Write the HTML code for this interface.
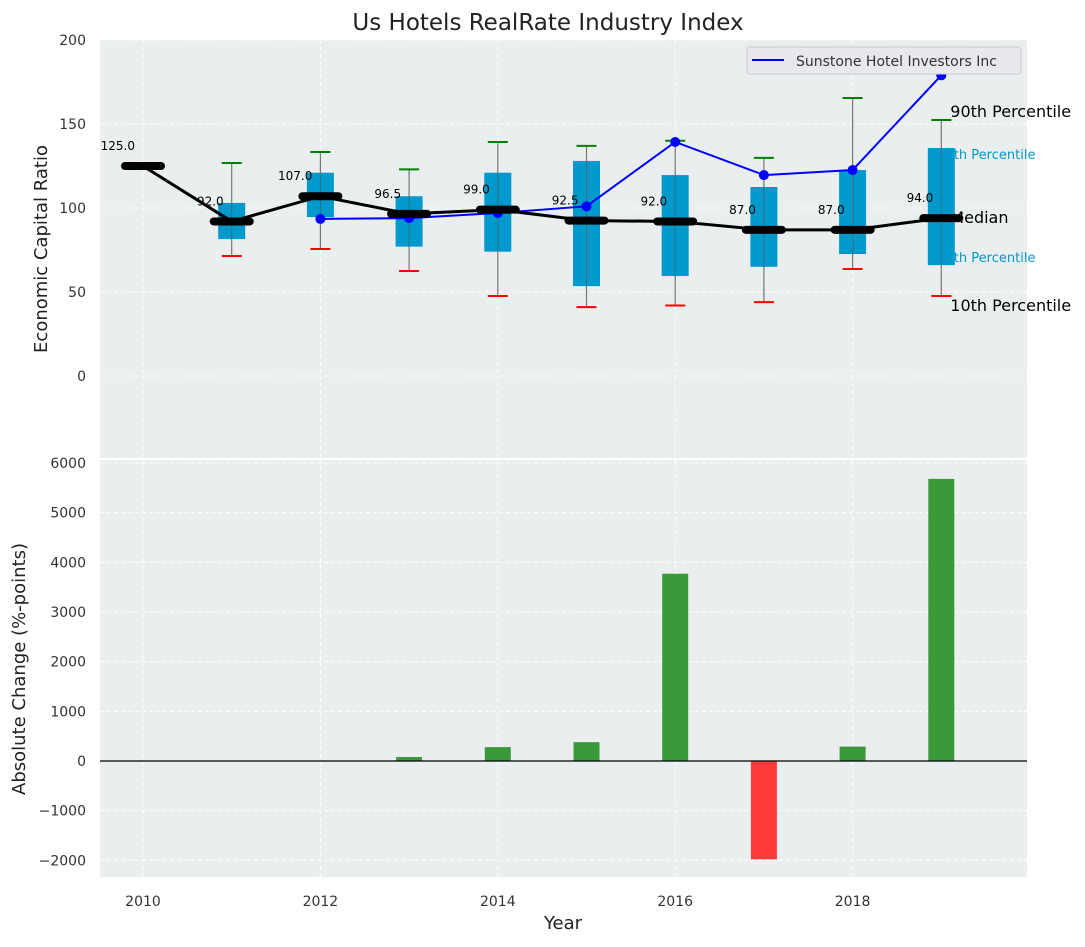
<!DOCTYPE html>
<html><head><meta charset="utf-8"><style>
body{margin:0;background:#fff;font-family:"Liberation Sans","DejaVu Sans",sans-serif}
svg text{font-family:"DejaVu Sans","Liberation Sans",sans-serif}
</style></head><body>
<svg id="c" width="1085" height="942" xmlns="http://www.w3.org/2000/svg">
<text x="548" y="30" text-anchor="middle" font-size="23" fill="#222">Us Hotels RealRate Industry Index</text>
<g id="gtop"></g><g id="gbot"></g>
</svg>
<script>
const years=[2010,2011,2012,2013,2014,2015,2016,2017,2018,2019];
const medians=[125,92,107,96.5,99,92.5,92,87,87,94];
const p25=[null,81.5,94.6,77,74,53.5,59.5,65,72.6,66];
const p75=[null,103,121,107,121,128,119.6,112.5,122.6,135.7];
const p10=[null,71.4,75.6,62.5,47.6,41,42,44,63.7,47.6];
const p90=[null,126.8,133.3,123,139.3,137,140,129.8,165.5,152.4];
const sunYears=[2012,2013,2014,2015,2016,2017,2018,2019];
const sunVals=[93.5,94,97,101,139.3,119.6,122.6,179];
const changes=[0,0,0,80,280,380,3770,-1980,290,5680];
const topTicks=[0,50,100,150,200];
const botTicks=[-2000,-1000,0,1000,2000,3000,4000,5000,6000];
const xTicks=[2010,2012,2014,2016,2018];

const NS="http://www.w3.org/2000/svg";
const L=100,R=1027;
const X=v=>143+(v-2010)*88.7;
const Yt=v=>376-v*1.68;
const Yb=v=>761-v*0.04967;
function el(p,t,a){const e=document.createElementNS(NS,t);for(const k in a)e.setAttribute(k,a[k]);p.appendChild(e);return e;}
const gTop=document.getElementById('gtop'),gBot=document.getElementById('gbot');

let r=el(gTop,'rect',{x:L,y:40,width:R-L,height:418,fill:'#eaeeee'});

r=el(gBot,'rect',{x:L,y:460,width:R-L,height:417,fill:'#eaeeee'});


xTicks.forEach(t=>{
  let g=el(gTop,'line',{x1:X(t),x2:X(t),y1:40,y2:458,stroke:'#fff','stroke-dasharray':'4,3'});
  
  g=el(gBot,'line',{x1:X(t),x2:X(t),y1:460,y2:877,stroke:'#fff','stroke-dasharray':'4,3'});
  
  let tx=el(gBot,'text',{x:X(t),y:906,'text-anchor':'middle','font-size':14,fill:'#333'});tx.textContent=t;
  
});
topTicks.forEach(t=>{
  let g=el(gTop,'line',{x1:L,x2:R,y1:Yt(t),y2:Yt(t),stroke:'#fff','stroke-dasharray':'4,3'});
  
  let tx=el(gTop,'text',{x:86,y:Yt(t)+5,'text-anchor':'end','font-size':14,fill:'#333'});tx.textContent=t;
  
});
botTicks.forEach(t=>{
  let g=el(gBot,'line',{x1:L,x2:R,y1:Yb(t),y2:Yb(t),stroke:'#fff','stroke-dasharray':'4,3'});
  
  let tx=el(gBot,'text',{x:86,y:Yb(t)+5,'text-anchor':'end','font-size':14,fill:'#333'});tx.textContent=(t<0?'\u2212'+(-t):t);
  
});

const last=years.length-1, lx=X(years[last])+9;
[[p90[last],'90th Percentile',16,'#000',-3,0],[p75[last],'75th Percentile',13,'#0099cc',11,-13],[medians[last],'Median',16,'#000',5,0],[p25[last],'25th Percentile',13,'#0099cc',-3,-13],[p10[last],'10th Percentile',16,'#000',15,0]].forEach(d=>{
  let tx=el(gTop,'text',{x:lx+d[5],y:Yt(d[0])+d[4],'font-size':d[2],fill:d[3]});tx.textContent=d[1];
  
});

years.forEach((y,i)=>{
  if(p25[i]==null)return;
  const cx=X(y),hw=13.5;
  let w=el(gTop,'line',{x1:cx,x2:cx,y1:Yt(p90[i]),y2:Yt(p10[i]),stroke:'#777','stroke-width':1.2});
  
  let b=el(gTop,'rect',{x:cx-hw,y:Yt(p75[i]),width:2*hw,height:Yt(p25[i])-Yt(p75[i]),fill:'#0099cc'});
  
  let w2=el(gTop,'line',{x1:cx,x2:cx,y1:Yt(p75[i]),y2:Yt(p25[i]),stroke:'#555','stroke-width':1,opacity:0.6});
  
  let h=el(gTop,'line',{x1:cx-10,x2:cx+10,y1:Yt(p90[i]),y2:Yt(p90[i]),stroke:'green','stroke-width':2});
  
  h=el(gTop,'line',{x1:cx-10,x2:cx+10,y1:Yt(p10[i]),y2:Yt(p10[i]),stroke:'red','stroke-width':2});
  
});

let sp=el(gTop,'polyline',{points:sunYears.map((y,i)=>X(y)+','+Yt(sunVals[i])).join(' '),fill:'none',stroke:'blue','stroke-width':2});

sunYears.forEach((y,i)=>{let c=el(gTop,'circle',{cx:X(y),cy:Yt(sunVals[i]),r:5,fill:'blue'});
  });

let ml=el(gTop,'polyline',{points:years.map((y,i)=>X(y)+','+Yt(medians[i])).join(' '),fill:'none',stroke:'#000','stroke-width':3});

years.forEach((y,i)=>{
  let m=el(gTop,'line',{x1:X(y)-18,x2:X(y)+18,y1:Yt(medians[i]),y2:Yt(medians[i]),stroke:'#000','stroke-width':8,'stroke-linecap':'round'});
  
  let tx=el(gTop,'text',{x:X(y)-8,y:Yt(medians[i])-16,'text-anchor':'end','font-size':12,fill:'#000'});tx.textContent=medians[i].toFixed(1);
  
});

let lg=el(gTop,'rect',{x:747,y:47,width:274,height:27,rx:3,fill:'#e8e8ee',stroke:'#ccc'});

let ll=el(gTop,'line',{x1:752,x2:784,y1:60,y2:60,stroke:'blue','stroke-width':2});

let lt=el(gTop,'text',{x:796,y:66,'font-size':14,fill:'#333'});lt.textContent='Sunstone Hotel Investors Inc';


years.forEach((y,i)=>{
  if(!changes[i])return;
  const v=changes[i],y1=Yb(Math.max(v,0)),y2=Yb(Math.min(v,0));
  let b=el(gBot,'rect',{x:X(y)-13,y:y1,width:26,height:y2-y1,fill:v>0?'#3a9a3a':'#ff3b3b'});
  
});
let z=el(gBot,'line',{x1:L,x2:R,y1:Yb(0),y2:Yb(0),stroke:'#000','stroke-width':1.2});


let t1=el(gTop,'text',{x:47,y:249,'text-anchor':'middle','font-size':18,fill:'#222',transform:'rotate(-90 47 249)'});t1.textContent='Economic Capital Ratio';

let t2=el(gBot,'text',{x:25,y:669,'text-anchor':'middle','font-size':18,fill:'#222',transform:'rotate(-90 25 669)'});t2.textContent='Absolute Change (%-points)';

let t3=el(gBot,'text',{x:563,y:929,'text-anchor':'middle','font-size':18,fill:'#222'});t3.textContent='Year';

</script>
</body></html>
